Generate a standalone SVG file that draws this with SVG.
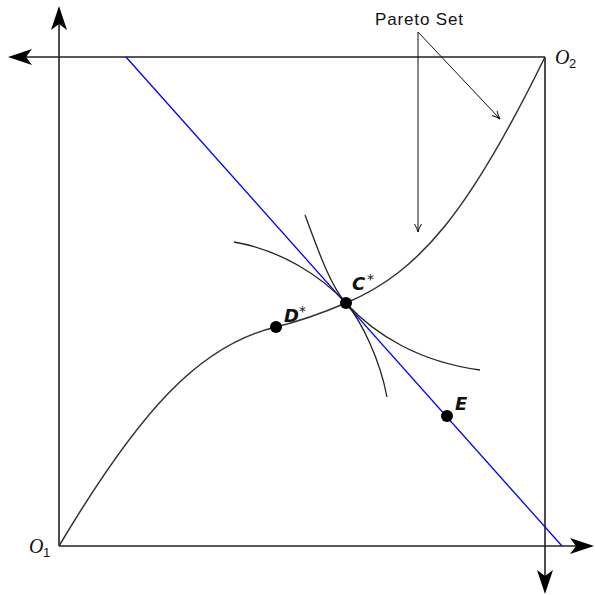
<svg xmlns="http://www.w3.org/2000/svg" width="595" height="595" viewBox="0 0 595 595">
<defs>
<style>
.axis{stroke:#222;stroke-width:1.6;fill:none}
.curve{stroke:#333;stroke-width:1.5;fill:none}
.ind{stroke:#222;stroke-width:1.3;fill:none}
.budget{stroke:#0000ff;stroke-width:1.3;fill:none}
.ptr{stroke:#111;stroke-width:1;fill:none}
.head{fill:#000}
.pt{fill:#000}
.lbl{font-family:"Liberation Sans","DejaVu Sans",sans-serif;font-size:17px;fill:#111}
.bi{font-family:"DejaVu Sans","Liberation Sans",sans-serif;font-size:18px;font-weight:bold;font-style:italic;fill:#111}
.ast{font-family:"DejaVu Sans",sans-serif;font-size:14px;fill:#111}
.it{font-family:"Liberation Serif","DejaVu Serif",serif;font-size:20px;font-style:italic;fill:#111}
.sub{font-family:"Liberation Sans","DejaVu Sans",sans-serif;font-size:13px;fill:#111}
</style>
<marker id="open" viewBox="0 0 10 10" refX="9" refY="5" markerWidth="10" markerHeight="10" markerUnits="userSpaceOnUse" orient="auto">
<path d="M1,1.5 Q5,4 9,5 Q5,6 1,8.5" fill="none" stroke="#111" stroke-width="1"/>
</marker>
</defs>
<g id="connectors">
<line class="axis" x1="59" y1="546" x2="59" y2="22"/>
<line class="axis" x1="59" y1="546" x2="578" y2="546"/>
<line class="axis" x1="545" y1="57" x2="24" y2="57"/>
<line class="axis" x1="545" y1="57" x2="545" y2="578"/>
<line class="budget" x1="126" y1="57" x2="562" y2="546"/>
<path class="curve" d="M59,546 C140,410 200,345 276,327 C300,321 325,312 346,303 C420,272 470,210 545,57"/>
<path class="ind" d="M234,242 C280,250 320,275 346,303 C375,335 420,362 480,370"/>
<path class="ind" d="M305,215 C318,250 330,285 346,303 C362,322 380,360 387,397"/>
<line class="ptr" x1="418" y1="32" x2="418" y2="232" marker-end="url(#open)"/>
<line class="ptr" x1="418" y1="32" x2="500" y2="119" marker-end="url(#open)"/>
</g>
<g id="arrowheads">
<path class="head" d="M59,6 L67,30 L59,24 L51,30 Z"/>
<path class="head" d="M8,57 L32,49 L26,57 L32,65 Z"/>
<path class="head" d="M594,546 L570,538 L576,546 L570,554 Z"/>
<path class="head" d="M545,594 L537,570 L545,576 L553,570 Z"/>
</g>
<g id="O1"><text class="it" x="29" y="553">O</text><text class="sub" x="43" y="557">1</text></g>
<g id="O2"><text class="it" x="555" y="64">O</text><text class="sub" x="569" y="68">2</text></g>
<g id="pareto-label"><text class="lbl" x="375" y="25" textLength="88">Pareto Set</text></g>
<g id="C"><circle class="pt" cx="346" cy="303" r="6"/><text class="bi" x="352" y="290">C</text><text class="ast" x="367" y="284">*</text></g>
<g id="D"><circle class="pt" cx="276" cy="327" r="6"/><text class="bi" x="284" y="322">D</text><text class="ast" x="299" y="316">*</text></g>
<g id="E"><circle class="pt" cx="447" cy="416" r="6"/><text class="bi" x="455" y="410">E</text></g>
</svg>
